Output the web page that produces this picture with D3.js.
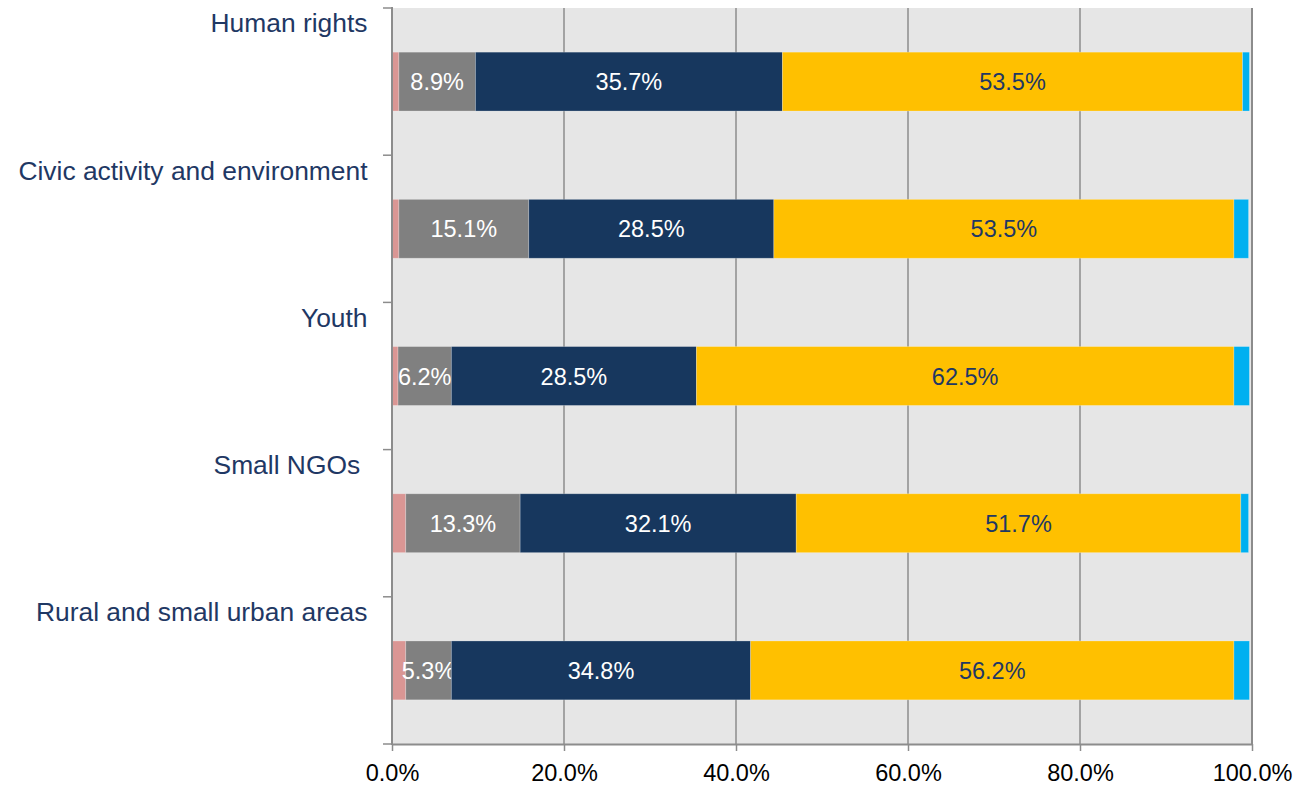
<!DOCTYPE html>
<html>
<head>
<meta charset="utf-8">
<script src="https://cdn.jsdelivr.net/npm/d3@7"></script>
<style>
  body { margin: 0; background: #fff; }
  svg { display: block; font-family: "Liberation Sans", Arial, sans-serif; }
</style>
</head>
<body>
<div id="chart"></div>
<script>
// categories, top to bottom
const categories = [
  "Human rights",
  "Civic activity and environment",
  "Youth",
  "Small NGOs ",
  "Rural and small urban areas"
];

// series values (%), one entry per category
const seriesA = [0.8, 0.8, 0.7, 1.6, 1.6];      // pink
const seriesB = [8.9, 15.1, 6.2, 13.3, 5.3];     // grey
const seriesC = [35.7, 28.5, 28.5, 32.1, 34.8];  // navy
const seriesD = [53.5, 53.5, 62.5, 51.7, 56.2];  // yellow
const seriesE = [0.8, 1.7, 1.8, 0.9, 1.8];       // light blue

const xTicks = [0, 20, 40, 60, 80, 100];

const keys = ["a", "b", "c", "d", "e"];
const colors = { a: "#da9694", b: "#808080", c: "#17375e", d: "#ffc000", e: "#00b0f0" };
// which series get a value label, and in what colour
const labelColors = { b: "#ffffff", c: "#ffffff", d: "#1f3864" };

const table = categories.map((cat, i) => ({
  cat: cat,
  a: seriesA[i], b: seriesB[i], c: seriesC[i], d: seriesD[i], e: seriesE[i]
}));

const width = 1312, height = 785;
const plotLeft = 392, plotRight = 1252, plotTop = 8, plotBottom = 744;

const svg = d3.select("#chart").append("svg")
  .attr("width", width)
  .attr("height", height);

const x = d3.scaleLinear().domain([0, 100]).range([plotLeft, plotRight]);
const y = d3.scaleBand().domain(categories).range([plotTop, plotBottom])
  .paddingInner(0.6).paddingOuter(0.3);

// plot background
svg.append("rect")
  .attr("x", plotLeft).attr("y", plotTop)
  .attr("width", plotRight - plotLeft).attr("height", plotBottom - plotTop)
  .attr("fill", "#e6e6e6");

// vertical gridlines
svg.append("g")
  .selectAll("line")
  .data(xTicks.slice(1))
  .join("line")
  .attr("x1", d => x(d)).attr("x2", d => x(d))
  .attr("y1", plotTop).attr("y2", plotBottom)
  .attr("stroke", "#8c8c8c")
  .attr("stroke-width", d => d === 100 ? 2 : 1.5);

// stacked bars
const stacked = d3.stack().keys(keys)(table);

const layers = svg.append("g")
  .selectAll("g")
  .data(stacked)
  .join("g")
  .attr("fill", d => colors[d.key]);

layers.selectAll("rect")
  .data(d => d)
  .join("rect")
  .attr("x", d => x(d[0]))
  .attr("y", d => y(d.data.cat))
  .attr("width", d => x(d[1]) - x(d[0]))
  .attr("height", y.bandwidth())
  .attr("stroke", "rgba(255,255,255,0.3)")
  .attr("stroke-width", 0.8);

// value labels
layers.filter(d => labelColors[d.key])
  .selectAll("text")
  .data(d => d.map(v => Object.assign(v, { key: d.key })))
  .join("text")
  .attr("x", d => (x(d[0]) + x(d[1])) / 2)
  .attr("y", d => y(d.data.cat) + y.bandwidth() / 2 + 8.5)
  .attr("text-anchor", "middle")
  .attr("fill", d => labelColors[d.key])
  .style("font-size", "23.5px")
  .text(d => (d[1] - d[0]).toFixed(1) + "%");

// x axis
const xAxis = d3.axisBottom(x)
  .tickValues(xTicks)
  .tickFormat(d => d.toFixed(1) + "%")
  .tickSize(7)
  .tickSizeOuter(0);

const gx = svg.append("g")
  .attr("transform", "translate(0," + plotBottom + ")")
  .call(xAxis);
gx.select(".domain").attr("stroke", "#8c8c8c").attr("stroke-width", 2);
gx.selectAll(".tick line").attr("stroke", "#8c8c8c").attr("stroke-width", 1.5);
gx.selectAll(".tick text")
  .attr("y", 37)
  .attr("dy", null)
  .attr("fill", "#000")
  .style("font-size", "23.5px")
  .style("font-family", "'Liberation Sans', Arial, sans-serif");

// y axis: line, ticks at category boundaries, labels at top of each band
const gap = (y.step() - y.bandwidth()) / 2;
const bounds = categories.map(c => y(c) - gap).concat([plotBottom]);

const gy = svg.append("g");
gy.append("line")
  .attr("x1", plotLeft).attr("x2", plotLeft)
  .attr("y1", plotTop - 1).attr("y2", plotBottom + 1)
  .attr("stroke", "#8c8c8c")
  .attr("stroke-width", 2);
gy.selectAll("line.tick")
  .data(bounds)
  .join("line")
  .attr("class", "tick")
  .attr("x1", plotLeft - 9).attr("x2", plotLeft)
  .attr("y1", d => d).attr("y2", d => d)
  .attr("stroke", "#8c8c8c")
  .attr("stroke-width", 1.5);

gy.selectAll("text")
  .data(categories)
  .join("text")
  .attr("x", 367.5)
  .attr("y", d => y(d) - gap + 24.3)
  .attr("text-anchor", "end")
  .attr("fill", "#1f3864")
  .style("font-size", "26.4px")
  .style("white-space", "pre")
  .text(d => d);
</script>
</body>
</html>
